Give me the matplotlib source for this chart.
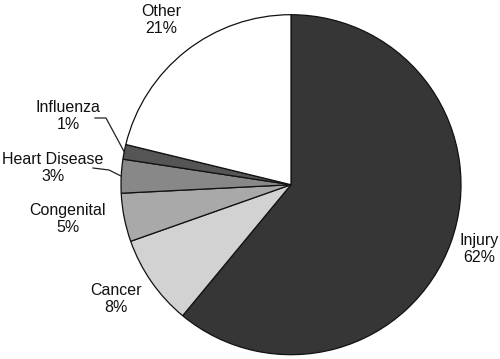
import numpy as np
import matplotlib
matplotlib.use("Agg")
import matplotlib.pyplot as plt

plt.rcParams['font.family'] = ['Liberation Sans', 'DejaVu Sans']

# slices, clockwise from 12 o'clock
causes = ['Injury', 'Cancer', 'Congenital', 'Heart Disease', 'Influenza', 'Other']
shares = [61.0, 8.6, 4.6, 3.2, 1.4, 21.2]          # sizes
pct_text = ['62%', '8%', '5%', '3%', '1%', '21%']   # printed labels
colors = ['#363636', '#d2d2d2', '#a9a9a9', '#888888', '#555555', '#ffffff']

# label block centres in pixel space (x, y from top)
label_xy = [(479, 249), (116, 299), (68, 219), (53, 168), (68, 116), (161, 20)]
# leader line knees for the small slices: (start, knee)
leaders = {3: [(93, 168), (109, 170)], 4: [(95, 118), (106, 118)]}

W, H = 500, 359
cx, cy, r = 291, H - 184.7, 170

fig = plt.figure(figsize=(5, 3.59), dpi=100)
ax = fig.add_axes([0, 0, 1, 1])
ax.set_xlim(0, W)
ax.set_ylim(0, H)
ax.set_aspect('equal')
ax.axis('off')

wedges, _ = ax.pie(shares, colors=colors, startangle=90, counterclock=False,
                   center=(cx, cy), radius=r, frame=True,
                   wedgeprops=dict(edgecolor='#111111', linewidth=0.9))
ax.set_xlim(0, W)
ax.set_ylim(0, H)
ax.axis('off')

for i, name in enumerate(causes):
    x, y = label_xy[i]
    ax.text(x, H - y, name + '\n' + pct_text[i], ha='center', va='center',
            fontsize=11.5, color='#111111', linespacing=1.2)

for i, pts in leaders.items():
    w = wedges[i]
    mid = np.deg2rad((w.theta1 + w.theta2) / 2)
    ex = cx + r * np.cos(mid)
    ey = cy + r * np.sin(mid)
    xs = [p[0] for p in pts] + [ex]
    ys = [H - p[1] for p in pts] + [ey]
    ax.plot(xs, ys, color='#222222', lw=0.9)

fig.savefig('out.png', dpi=100)
